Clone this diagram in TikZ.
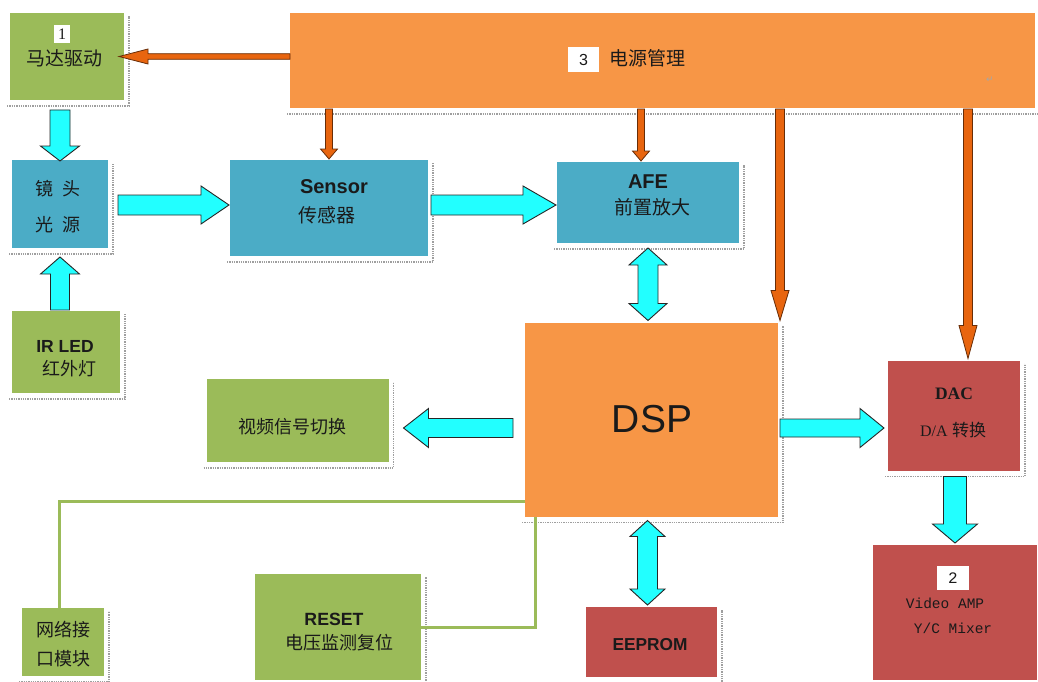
\documentclass[tikz,border=0pt]{standalone}
\usepackage{fontspec}
\setmainfont{Liberation Sans}
\newfontfamily\cjk{Noto Sans CJK SC}
\newfontfamily\serifL{Liberation Serif}
\newfontfamily\monoL{Liberation Mono}
\newfontfamily\djv{DejaVu Sans}
\usetikzlibrary{calc}
\definecolor{boxgreen}{HTML}{9BBB59}
\definecolor{boxorange}{HTML}{F79646}
\definecolor{boxblue}{HTML}{4BACC6}
\definecolor{boxred}{HTML}{C0504D}
\definecolor{arrowcyan}{HTML}{22FFFF}
\definecolor{arroworange}{HTML}{E8650F}
\definecolor{txt}{HTML}{1A1A1A}
\tikzset{
  box/.style={inner sep=0pt, outer sep=0pt},
  gbox/.style={box, fill=boxgreen},
  obox/.style={box, fill=boxorange},
  bbox/.style={box, fill=boxblue},
  rbox/.style={box, fill=boxred},
  shadowln/.style={draw=gray!75, densely dotted, line width=1.3pt},
  cyarrow/.style={fill=arrowcyan, draw=black!85, line width=0.9pt, line join=miter},
  orarrow/.style={fill=arroworange, draw=black!55!arroworange, line width=0.8pt, line join=miter},
  gline/.style={draw=boxgreen, line width=3pt},
  lbl/.style={inner sep=0pt, outer sep=0pt, text=txt},
  cjkl/.style={lbl, font=\cjk\fontsize{18}{20}\selectfont},
  cjkL/.style={lbl, font=\cjk\fontsize{19}{21}\selectfont},
  numbox/.style={lbl, fill=white, text=txt}
}
% block arrow: style, from, to, half shaft, half head, head length
\newcommand\blockarrow[6]{%
  \path coordinate (ba-n) at ($#3!#6!#2$);
  \draw[#1] ($#2!#4!90:#3$) -- ($(ba-n)!#4!90:#3$) -- ($(ba-n)!#5!90:#3$) -- #3
    -- ($(ba-n)!#5!-90:#3$) -- ($(ba-n)!#4!-90:#3$) -- ($#2!#4!-90:#3$) -- cycle;}
% double block arrow
\newcommand\dblarrow[6]{%
  \path coordinate (da-n1) at ($#2!#6!#3$) coordinate (da-n2) at ($#3!#6!#2$);
  \draw[#1] #2 -- ($(da-n1)!#5!90:#3$) -- ($(da-n1)!#4!90:#3$) -- ($(da-n2)!#4!90:#3$)
    -- ($(da-n2)!#5!90:#3$) -- #3 -- ($(da-n2)!#5!-90:#3$) -- ($(da-n2)!#4!-90:#3$)
    -- ($(da-n1)!#4!-90:#3$) -- ($(da-n1)!#5!-90:#3$) -- cycle;}
\begin{document}
\begin{tikzpicture}[x=1pt,y=-1pt]
\useasboundingbox[fill=white] (0,0) rectangle (1038,682);

% boxes
\node[gbox, minimum width=114pt, minimum height=87pt] (motor) at (67,56.5) {};
\node[obox, minimum width=745pt, minimum height=95pt] (power) at (662.5,60.5) {};
\node[bbox, minimum width=96pt, minimum height=88pt] (lens) at (60,204) {};
\node[bbox, minimum width=198pt, minimum height=96pt] (sensor) at (329,208) {};
\node[bbox, minimum width=182pt, minimum height=81pt] (afe) at (648,202.5) {};
\node[gbox, minimum width=108pt, minimum height=82pt] (ir) at (66,352) {};
\node[gbox, minimum width=182pt, minimum height=83pt] (video) at (297.5,420.5) {};
\node[obox, minimum width=253pt, minimum height=194pt] (dsp) at (651.5,419.5) {};
\node[rbox, minimum width=132pt, minimum height=110pt] (dac) at (954,415.5) {};
\node[rbox, minimum width=164pt, minimum height=135pt] (amp) at (955,612.5) {};
\node[rbox, minimum width=131pt, minimum height=70pt] (eeprom) at (651.5,642) {};
\node[gbox, minimum width=82pt, minimum height=68pt] (net) at (63,642) {};
\node[gbox, minimum width=166pt, minimum height=106pt] (reset) at (338,627) {};

% dotted shadow edges
\foreach \n in {motor,power,lens,sensor,afe,ir,video,dsp,dac,amp,eeprom,net,reset}
  \draw[shadowln] ([xshift=-3pt,yshift=-6pt]\n.south west) -- ([xshift=5pt,yshift=-6pt]\n.south east)
    -- ([xshift=5pt,yshift=-3pt]\n.north east);

% texts
\node[numbox, minimum width=16pt, minimum height=18pt, font=\serifL\fontsize{16}{18}\selectfont] (n1) at (62,34) {1};
\node[cjkL] (tmotor) at (64,58) {马达驱动};
\node[numbox, minimum width=31pt, minimum height=25pt, font=\fontsize{16}{18}\selectfont] (n3) at (583.5,59.5) {3};
\node[cjkL] (tpower) at (647,58) {电源管理};
\node[lbl, text=gray!70, font=\djv\fontsize{9}{10}\selectfont] (tret) at (990,80) {↵};
\node[cjkl] (tlens1) at (58,189) {镜\hspace{0.45em}头};
\node[cjkl] (tlens2) at (58,225) {光\hspace{0.45em}源};
\node[lbl, anchor=west, font=\bfseries\fontsize{20}{22}\selectfont] (tsensor) at (300,187) {Sensor};
\node[cjkL, anchor=west] (tsensor2) at (298,215) {传感器};
\node[lbl, font=\bfseries\fontsize{20}{22}\selectfont] (tafe) at (648,182) {AFE};
\node[cjkL] (tafe2) at (652,207) {前置放大};
\node[lbl, font=\bfseries\fontsize{17.5}{20}\selectfont] (tir) at (65,346) {IR LED};
\node[cjkl] (tir2) at (69,369) {红外灯};
\node[cjkl] (tvideo) at (292,427) {视频信号切换};
\node[lbl, font=\fontsize{39}{42}\selectfont] (tdsp) at (652,419) {DSP};
\node[lbl, font=\serifL\bfseries\fontsize{17.5}{20}\selectfont] (tdac) at (954,394) {DAC};
\node[lbl, font=\fontsize{16}{18}\selectfont] (tdac2) at (953,430) {{\serifL D/A} {\cjk\fontsize{17}{18}\selectfont 转换}};
\node[numbox, minimum width=32pt, minimum height=24pt, font=\monoL\fontsize{16}{18}\selectfont] (n2) at (953,578) {2};
\node[lbl, font=\monoL\fontsize{14.5}{16}\selectfont] (tamp1) at (945,603) {Video AMP};
\node[lbl, font=\monoL\fontsize{14.5}{16}\selectfont] (tamp2) at (953,628) {Y/C Mixer};
\node[lbl, font=\bfseries\fontsize{17.3}{20}\selectfont] (teeprom) at (650,645) {EEPROM};
\node[cjkl] (tnet1) at (63,630) {网络接};
\node[cjkl] (tnet2) at (63,659) {口模块};
\node[lbl, font=\bfseries\fontsize{17.7}{20}\selectfont] (treset) at (334,619) {RESET};
\node[cjkl] (treset2) at (339,643) {电压监测复位};

% green lines
\coordinate (gA) at ($(dsp.south west)+(0,-15)$);
\coordinate (gB) at ($(net.north)+(-4,0)$);
\draw[gline] (gA) -| (gB);
\coordinate (gC) at ($(dsp.south west)+(10,0)$);
\draw[gline] (reset.east) -| (gC);

% orange power arrows
\coordinate (o1s) at (power.west |- motor.east);
\coordinate (o1e) at ($(motor.east)+(-5,0)$);
\blockarrow{orarrow}{(o1s)}{(o1e)}{2.8pt}{7.5pt}{29pt}
\coordinate (o2s) at ($(sensor.north |- power.south)+(0,1)$);
\coordinate (o2e) at ($(sensor.north)+(0,-1)$);
\blockarrow{orarrow}{(o2s)}{(o2e)}{3.5pt}{8.5pt}{10pt}
\coordinate (o3s) at ($(afe.north |- power.south)+(-7,1)$);
\coordinate (o3e) at ($(afe.north)+(-7,-1)$);
\blockarrow{orarrow}{(o3s)}{(o3e)}{3.5pt}{8.5pt}{10pt}
\coordinate (o4s) at ($(dsp.north east |- power.south)+(2,1)$);
\coordinate (o4e) at ($(dsp.north east)+(2,-2)$);
\blockarrow{orarrow}{(o4s)}{(o4e)}{4.5pt}{9pt}{30pt}
\coordinate (o5s) at ($(dac.north |- power.south)+(14,1)$);
\coordinate (o5e) at ($(dac.north)+(14,-2)$);
\blockarrow{orarrow}{(o5s)}{(o5e)}{4.5pt}{9pt}{33pt}

% cyan block arrows
\coordinate (c1s) at ($(lens.north |- motor.south)+(0,10)$);
\coordinate (c1e) at ($(lens.north)+(0,1)$);
\blockarrow{cyarrow}{(c1s)}{(c1e)}{10pt}{19.5pt}{15pt}
\coordinate (c2s) at ($(lens.south |- ir.north)+(0,-1)$);
\coordinate (c2e) at ($(lens.south)+(0,9)$);
\blockarrow{cyarrow}{(c2s)}{(c2e)}{9.5pt}{19.5pt}{17pt}
\coordinate (c3s) at ($(lens.east)+(10,1)$);
\coordinate (c3e) at ($(sensor.west |- lens.east)+(-1,1)$);
\blockarrow{cyarrow}{(c3s)}{(c3e)}{10pt}{19pt}{28pt}
\coordinate (c4s) at ($(sensor.east |- lens.east)+(3,1)$);
\coordinate (c4e) at ($(afe.west |- lens.east)+(-1,1)$);
\blockarrow{cyarrow}{(c4s)}{(c4e)}{10pt}{19pt}{33pt}
\coordinate (c5s) at ($(afe.south)+(0,5)$);
\coordinate (c5e) at ($(afe.south |- dsp.north)+(0,-2)$);
\dblarrow{cyarrow}{(c5s)}{(c5e)}{10pt}{19pt}{17pt}
\coordinate (c6s) at ($(dsp.west)+(-12,8.5)$);
\coordinate (c6e) at ($(video.east |- c6s)+(15,0)$);
\blockarrow{cyarrow}{(c6s)}{(c6e)}{9.5pt}{19.5pt}{25pt}
\coordinate (c7s) at ($(dsp.east)+(2,8.5)$);
\coordinate (c7e) at ($(dac.west |- c7s)+(-4,0)$);
\blockarrow{cyarrow}{(c7s)}{(c7e)}{9pt}{19.5pt}{24pt}
\coordinate (c8s) at ($(eeprom.north |- dsp.south)+(-4,4)$);
\coordinate (c8e) at ($(eeprom.north)+(-4,-2)$);
\dblarrow{cyarrow}{(c8s)}{(c8e)}{10pt}{17.5pt}{16pt}
\coordinate (c9s) at ($(dac.south)+(1,6)$);
\coordinate (c9e) at ($(amp.north)+(0,-2)$);
\blockarrow{cyarrow}{(c9s)}{(c9e)}{11.5pt}{22.5pt}{19pt}
\end{tikzpicture}
\end{document}
